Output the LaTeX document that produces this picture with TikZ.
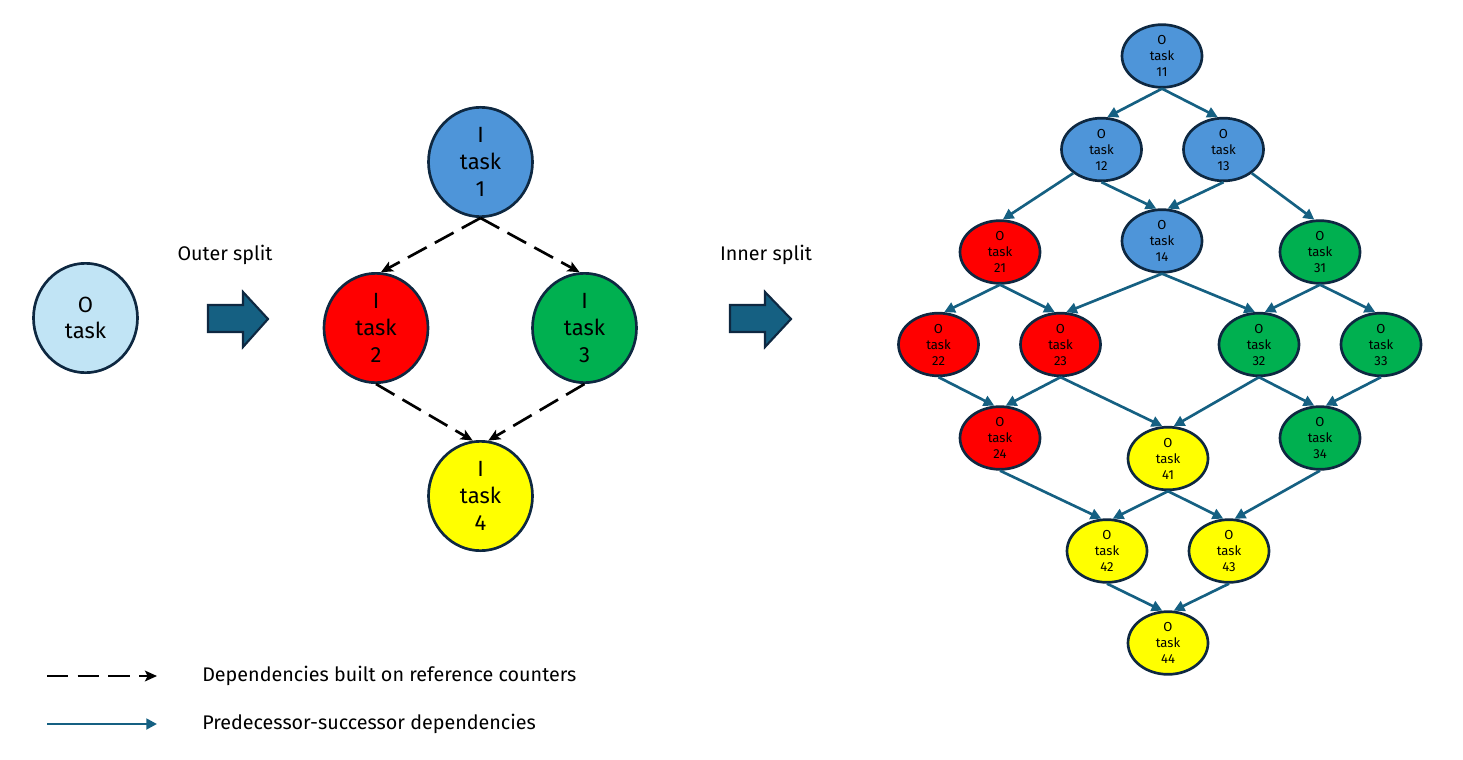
\documentclass[tikz,border=0pt]{standalone}
\usepackage{fontspec}
\setmainfont{Fira Sans}
\usetikzlibrary{arrows.meta,shapes.geometric}
\definecolor{nblue}{HTML}{4E95D9}
\definecolor{nred}{HTML}{FF0000}
\definecolor{ngreen}{HTML}{00B050}
\definecolor{nyellow}{HTML}{FFFF00}
\definecolor{nlight}{HTML}{C1E4F5}
\definecolor{outl}{HTML}{0E2841}
\definecolor{arrblue}{HTML}{156082}
\begin{document}
\begin{tikzpicture}[x=0.75pt,y=-0.75pt,
  bignode/.style={ellipse,draw=outl,line width=2pt,inner sep=0pt,
    minimum width=78pt,minimum height=82pt,align=center,
    font=\fontsize{16.5}{20}\selectfont},
  smallnode/.style={ellipse,draw=outl,line width=2pt,inner sep=0pt,
    minimum width=60pt,minimum height=47pt,align=center,
    font=\fontsize{9.8}{12}\selectfont},
  dep/.style={draw=arrblue,line width=2pt,-{Triangle[length=8pt,width=8pt]}},
  refdep/.style={draw=black,line width=2pt,dash pattern=on 16pt off 7pt,
    -{Stealth[length=9pt,width=8pt,inset=2pt]}},
  blockarrow/.style={fill=arrblue,draw=outl,line width=1.6pt,line join=miter},
  lbl/.style={font=\fontsize{14.8}{18}\selectfont,inner sep=0pt}
]
\useasboundingbox (0,0) rectangle (1463,760);

% left: original task
\node[bignode,fill=nlight] (ot) at (85.5,318) {O\\task};

% block arrows
\draw[blockarrow] (208,305) -- (243,305) -- (243,292) -- (268,319) -- (243,347) -- (243,332) -- (208,332) -- cycle;
\draw[blockarrow] (730,305) -- (765,305) -- (765,292) -- (791,319) -- (765,347) -- (765,332) -- (730,332) -- cycle;
\node[lbl] (outer) at (225,255) {Outer split};
\node[lbl] (inner) at (766,255) {Inner split};

% middle: outer split
\node[bignode,fill=nblue] (t1) at (480.5,162) {I\\task\\1};
\node[bignode,fill=nred] (t2) at (376,328) {I\\task\\2};
\node[bignode,fill=ngreen] (t3) at (584.5,328) {I\\task\\3};
\node[bignode,fill=nyellow] (t4) at (480.5,496) {I\\task\\4};
\draw[refdep] (t1.south) -- (t2.85);
\draw[refdep] (t1.south) -- (t3.95);
\draw[refdep] (t2.south) -- (t4.98);
\draw[refdep] (t3.south) -- (t4.82);

% right: inner split
\node[smallnode,fill=nblue] (s11) at (1162,56) {O\\task\\11};
\node[smallnode,fill=nblue] (s12) at (1101.5,149.5) {O\\task\\12};
\node[smallnode,fill=nblue] (s13) at (1223.5,149.5) {O\\task\\13};
\node[smallnode,fill=nblue] (s14) at (1162,241) {O\\task\\14};
\node[smallnode,fill=nred] (s21) at (1000,252) {O\\task\\21};
\node[smallnode,fill=nred] (s22) at (938.5,344.5) {O\\task\\22};
\node[smallnode,fill=nred] (s23) at (1060.5,344.5) {O\\task\\23};
\node[smallnode,fill=nred] (s24) at (1000,438) {O\\task\\24};
\node[smallnode,fill=ngreen] (s31) at (1320,252) {O\\task\\31};
\node[smallnode,fill=ngreen] (s32) at (1259,344.5) {O\\task\\32};
\node[smallnode,fill=ngreen] (s33) at (1381,344.5) {O\\task\\33};
\node[smallnode,fill=ngreen] (s34) at (1320,438) {O\\task\\34};
\node[smallnode,fill=nyellow] (s41) at (1168,458.5) {O\\task\\41};
\node[smallnode,fill=nyellow] (s42) at (1107,551) {O\\task\\42};
\node[smallnode,fill=nyellow] (s43) at (1229,551) {O\\task\\43};
\node[smallnode,fill=nyellow] (s44) at (1168,643) {O\\task\\44};

\draw[dep] (s11.south) -- (s12.80);
\draw[dep] (s11.south) -- (s13.100);
\draw[dep] (s12.-140) -- (s21.85);
\draw[dep] (s12.south) -- (s14.100);
\draw[dep] (s13.south) -- (s14.80);
\draw[dep] (s13.-40) -- (s31.100);
\draw[dep] (s21.south) -- (s22.80);
\draw[dep] (s21.south) -- (s23.100);
\draw[dep] (s14.south) -- (s23.80);
\draw[dep] (s14.south) -- (s32.97);
\draw[dep] (s31.south) -- (s32.80);
\draw[dep] (s31.south) -- (s33.100);
\draw[dep] (s22.south) -- (s24.100);
\draw[dep] (s23.south) -- (s24.80);
\draw[dep] (s23.south) -- (s41.100);
\draw[dep] (s32.south) -- (s41.80);
\draw[dep] (s32.south) -- (s34.100);
\draw[dep] (s33.south) -- (s34.80);
\draw[dep] (s24.south) -- (s42.100);
\draw[dep] (s41.south) -- (s42.80);
\draw[dep] (s41.south) -- (s43.100);
\draw[dep] (s34.south) -- (s43.80);
\draw[dep] (s42.south) -- (s44.100);
\draw[dep] (s43.south) -- (s44.80);

% legend
\coordinate (la1) at (47,676);
\coordinate (la2) at (157,676);
\coordinate (lb1) at (47,724);
\coordinate (lb2) at (157,724);
\draw[refdep] (la1) -- (la2);
\draw[dep] (lb1) -- (lb2);
\node[lbl,anchor=west] (leg1) at (202,676) {Dependencies built on reference counters};
\node[lbl,anchor=west] (leg2) at (202,724) {Predecessor-successor dependencies};
\end{tikzpicture}
\end{document}
